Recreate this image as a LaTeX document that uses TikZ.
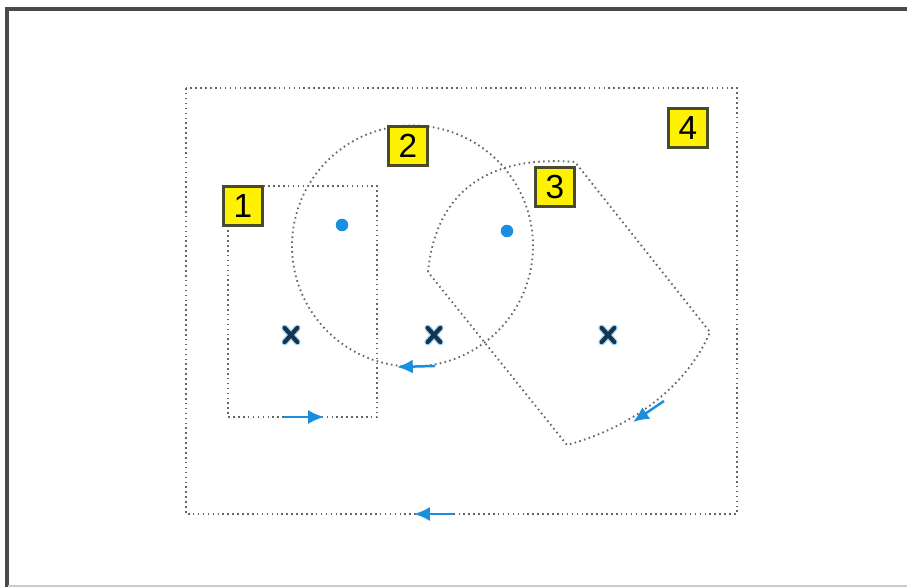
\documentclass[tikz,border=0pt]{standalone}
\usepackage{fontspec}
\setmainfont{Liberation Sans}
\usetikzlibrary{arrows.meta}
\definecolor{dotgray}{HTML}{666666}
\definecolor{skyblue}{HTML}{1A8FE0}
\definecolor{navyx}{HTML}{15354F}
\definecolor{halo}{HTML}{5AB4F0}
\definecolor{framegray}{HTML}{4A4A4A}
\definecolor{tagborder}{HTML}{4A4A30}
\tikzset{
  dotline/.style={draw=dotgray, line width=1.05pt, dash pattern=on 0.9pt off 1.9pt},
  tag/.style={draw=tagborder, line width=1.4pt, fill=yellow, minimum width=0.78cm, minimum height=0.78cm, inner sep=0pt, font=\fontsize{19}{19}\selectfont},
  bluedot/.style={circle, fill=skyblue, minimum size=0.25cm, inner sep=0pt},
  flowarrow/.style={draw=skyblue, line width=1.4pt, -{Latex[length=9pt,width=8pt]}},
  xmark/.style={minimum width=0.24cm, minimum height=0.27cm, inner sep=0pt},
}
\newcommand{\drawxmark}[1]{%
  \draw[halo, line width=3.8pt, line cap=round, opacity=0.55] (#1.north west) -- (#1.south east) (#1.north east) -- (#1.south west);
  \draw[navyx, line width=2.4pt, line cap=round] (#1.north west) -- (#1.south east) (#1.north east) -- (#1.south west);
}
\begin{document}
\begin{tikzpicture}[x=0.02cm, y=-0.02cm]
\useasboundingbox (0,0) rectangle (907,587);
\fill[white] (0,0) rectangle (907,587);
% frame
\draw[framegray, line width=2.4pt] (7,587) -- (7,9) -- (907,9);
\draw[black!20, line width=1pt] (8,586) -- (907,586);

% region 4
\draw[dotline] (186,88) rectangle (737,514);
% region 1
\draw[dotline] (228,186) rectangle (377,417);
% region 2
\coordinate (c2) at (412.5,246);
\draw[dotline] (c2) circle (2.41cm);
% region 3
\coordinate (p1) at (428,272);
\coordinate (p2) at (575,162);
\coordinate (p3) at (710,332);
\coordinate (p4) at (567,445);
\draw[dotline] (p1) .. controls (436,190) and (490,155) .. (p2) -- (p3)
  .. controls (690,380) and (640,425) .. (p4) -- cycle;

% arrows
\coordinate (a1s) at (284,417); \coordinate (a1e) at (324,417);
\draw[flowarrow] (a1s) -- (a1e);
\coordinate (a2s) at (435,366); \coordinate (a2e) at (397,367);
\draw[flowarrow] (a2s) -- (a2e);
\coordinate (a3s) at (664,401); \coordinate (a3e) at (633,422);
\draw[flowarrow] (a3s) -- (a3e);
\coordinate (a4s) at (454,514); \coordinate (a4e) at (414,514);
\draw[flowarrow] (a4s) -- (a4e);

% dots
\node[bluedot] (d1) at (342,225) {};
\node[bluedot] (d2) at (507,231) {};

% x marks
\node[xmark] (x1) at (291,335) {};
\node[xmark] (x2) at (434,335) {};
\node[xmark] (x3) at (608,335) {};
\drawxmark{x1}
\drawxmark{x2}
\drawxmark{x3}

% tags
\node[tag] (t1) at (243,206) {1};
\node[tag] (t2) at (408,146) {2};
\node[tag] (t3) at (555,187) {3};
\node[tag] (t4) at (688,128) {4};
\end{tikzpicture}
\end{document}
